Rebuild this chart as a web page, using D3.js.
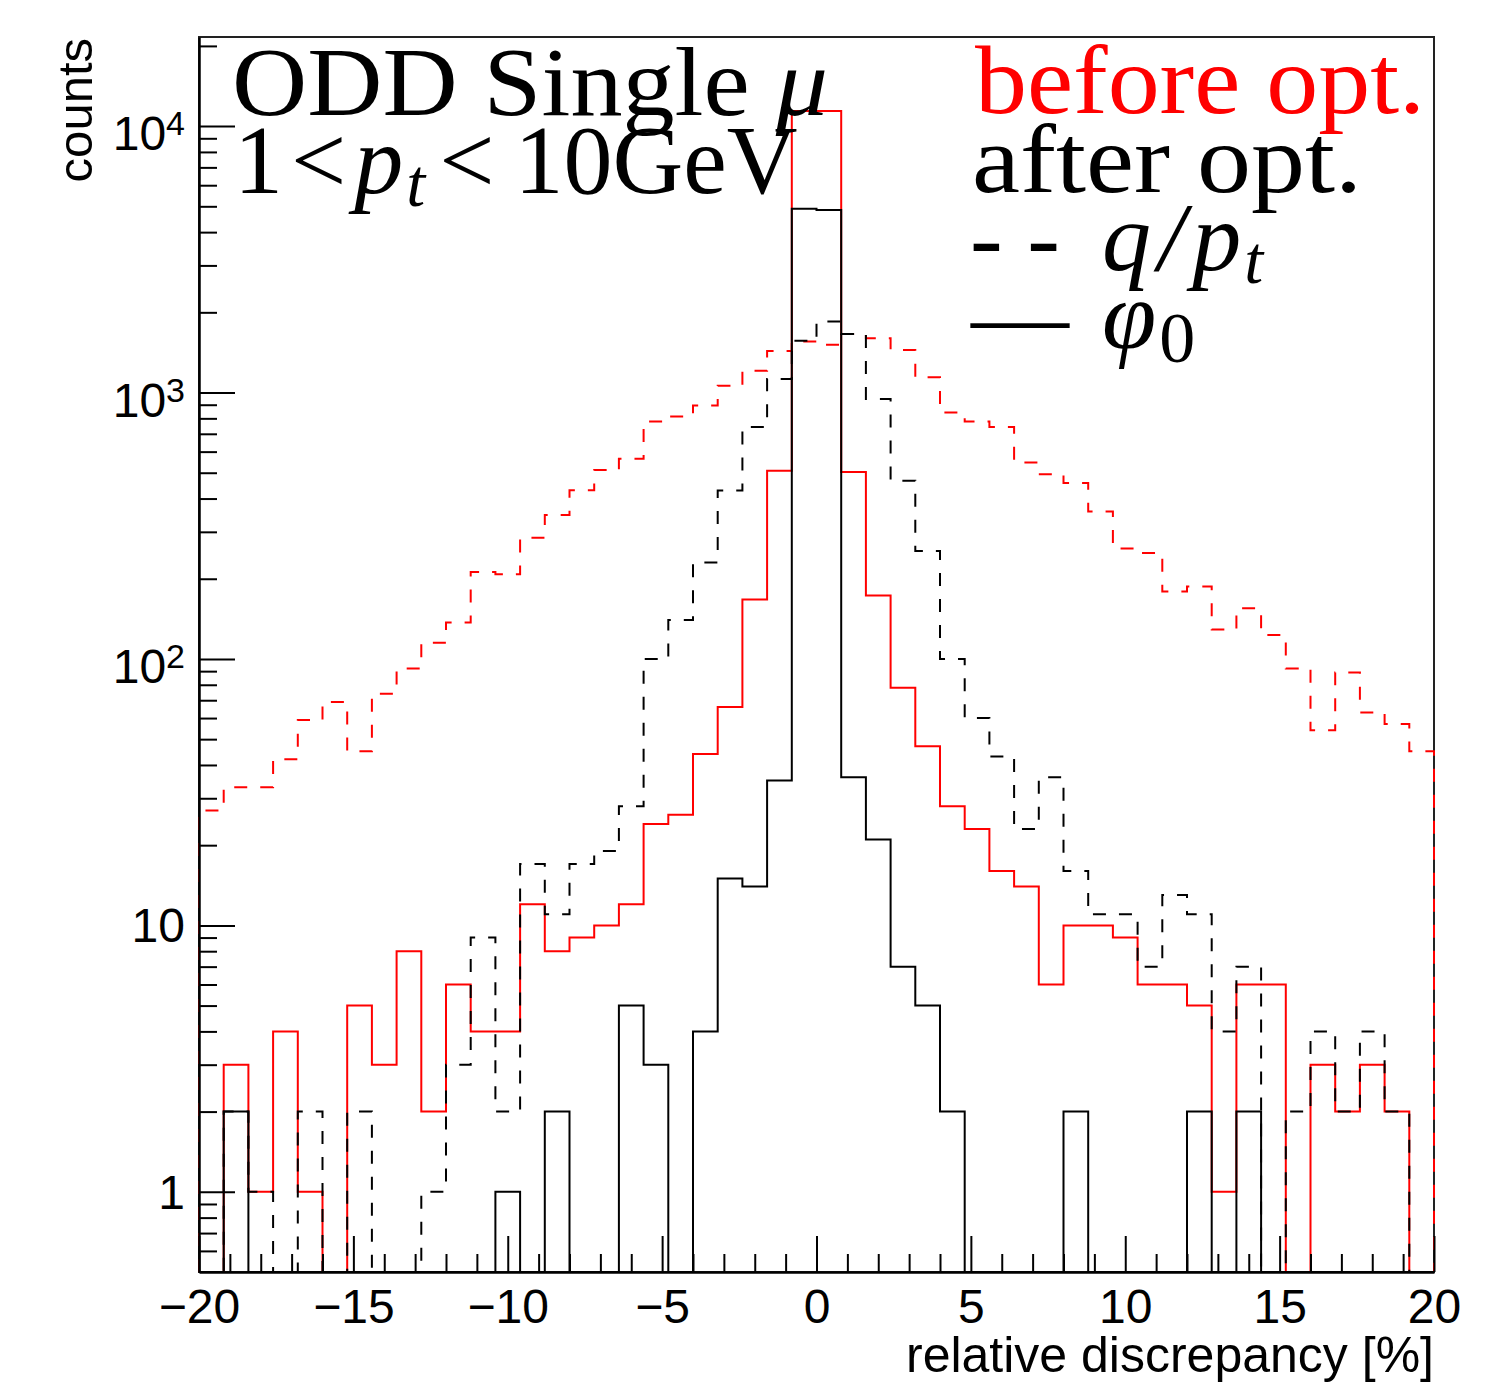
<!DOCTYPE html>
<html>
<head>
<meta charset="utf-8">
<script src="https://cdn.jsdelivr.net/npm/d3@7"></script>
<style>
  html, body { margin: 0; padding: 0; background: #fff; }
  svg { display: block; }
</style>
</head>
<body>
<div id="chart"></div>
<script>
// axis ticks
const xTickValues = [-20, -15, -10, -5, 0, 5, 10, 15, 20];
const yTickValues = [1, 10, 100, 1000, 10000];
const yTickLabels = [["1", ""], ["10", ""], ["10", "2"], ["10", "3"], ["10", "4"]];

// 50 bins of 0.8 % between -20 and 20
const binStart = -20;
const binWidth = 0.8;

// q/pt, before optimisation (red dashed)
const qptBefore = [27, 33, 33, 42, 59, 69, 45, 74, 92, 115, 137, 212, 208, 285, 347, 430, 512, 564, 779, 813,
  894, 1060, 1206, 1433, 1553, 1510, 1660, 1600, 1445, 1140, 841, 779, 742, 546, 494, 458, 358, 260, 250, 179,
  187, 129, 155, 123, 92, 54, 89, 63, 57, 45];
// q/pt, after optimisation (black dashed)
const qptAfter = [0, 2, 1, 0, 2, 0, 2, 0, 0, 1, 3, 9, 2, 17, 11, 17, 19, 28, 100, 140,
  230, 429, 742, 1125, 1566, 1846, 1660, 945, 467, 254, 100, 60, 43, 23, 36, 16, 11, 11, 7, 13,
  11, 4, 7, 0, 2, 4, 2, 4, 2, 0];
// phi0, before optimisation (red solid)
const phiBefore = [0, 3, 1, 4, 1, 0, 5, 3, 8, 2, 6, 4, 4, 12, 8, 9, 10, 12, 24, 26,
  44, 66, 167, 509, 11400, 11400, 503, 173, 78, 47, 28, 23, 16, 14, 6, 10, 10, 9, 6, 6,
  5, 1, 6, 6, 0, 3, 2, 3, 2, 0];
// phi0, after optimisation (black solid)
const phiAfter = [0, 2, 0, 0, 0, 0, 0, 0, 0, 0, 0, 0, 1, 0, 2, 0, 0, 5, 3, 0,
  4, 15, 14, 35, 4900, 4840, 36, 21, 7, 5, 2, 0, 0, 0, 0, 2, 0, 0, 0, 0,
  2, 0, 2, 0, 0, 0, 0, 0, 0, 0];

const width = 1505, height = 1385;
const padLeft = 199, padRight = 1434, padTop = 37, padBottom = 1272;
const yMin = 0.5, yMax = 21600;
const sans = '"Liberation Sans", Arial, Helvetica, sans-serif';
const serif = '"Liberation Serif", "Times New Roman", serif';

const edges = d3.range(qptBefore.length + 1).map(i => binStart + i * binWidth);

const x = d3.scaleLinear().domain([-20, 20]).range([padLeft, padRight]);
const y = d3.scaleLog().domain([yMin, yMax]).range([padBottom, padTop]);

const svg = d3.select('#chart').append('svg')
  .attr('width', width)
  .attr('height', height)
  .attr('viewBox', `0 0 ${width} ${height}`);

// frame
svg.append('rect')
  .attr('x', padLeft).attr('y', padTop)
  .attr('width', padRight - padLeft).attr('height', padBottom - padTop)
  .attr('fill', 'none').attr('stroke', '#222').attr('stroke-width', 2);

function histPoints(vals) {
  const pts = [[edges[0], yMin]];
  vals.forEach((v, i) => {
    const c = Math.max(v, yMin);
    pts.push([edges[i], c], [edges[i + 1], c]);
  });
  pts.push([edges[edges.length - 1], yMin]);
  return pts;
}

const line = d3.line().x(d => x(d[0])).y(d => y(d[1]));

const series = [
  { values: qptBefore, color: '#ff0000', dash: '13 13' },
  { values: phiBefore, color: '#ff0000', dash: null },
  { values: qptAfter, color: '#000', dash: '13 13' },
  { values: phiAfter, color: '#000', dash: null }
];

svg.append('g').attr('class', 'hists')
  .selectAll('path')
  .data(series)
  .join('path')
  .attr('d', d => line(histPoints(d.values)))
  .attr('fill', 'none')
  .attr('stroke', d => d.color)
  .attr('stroke-width', 2)
  .attr('stroke-dasharray', d => d.dash);

// x axis
const xMinor = d3.range(-19, 20).filter(v => v % 5 !== 0);
svg.append('g')
  .attr('transform', `translate(0,${padBottom})`)
  .call(d3.axisBottom(x).tickValues(xMinor).tickSize(-18).tickSizeOuter(0).tickFormat(''))
  .call(g => g.select('.domain').remove());

svg.append('g')
  .attr('class', 'x-axis')
  .attr('transform', `translate(0,${padBottom})`)
  .call(d3.axisBottom(x).tickValues(xTickValues).tickSize(-36).tickSizeOuter(0).tickPadding(17))
  .call(g => g.select('.domain').attr('stroke-width', 2.5))
  .call(g => g.selectAll('text')
    .attr('font-family', sans)
    .attr('font-size', 48)
    .attr('fill', '#000'));

// y axis
const yMinor = [];
[-1, 0, 1, 2, 3, 4].forEach(p => {
  d3.range(2, 10).forEach(k => {
    const v = k * Math.pow(10, p);
    if (v > yMin && v < yMax && !yTickValues.includes(v)) yMinor.push(v);
  });
});

svg.append('g')
  .attr('transform', `translate(${padLeft},0)`)
  .call(d3.axisLeft(y).tickValues(yMinor).tickSize(-18).tickSizeOuter(0).tickFormat(''))
  .call(g => g.select('.domain').remove());

svg.append('g')
  .attr('transform', `translate(${padLeft},0)`)
  .call(d3.axisLeft(y).tickValues(yTickValues).tickSize(-36).tickSizeOuter(0).tickFormat(''))
  .call(g => g.select('.domain').attr('stroke-width', 2.5));

svg.selectAll('.tick line').attr('stroke', '#000').attr('stroke-width', 2);

const yLab = svg.append('g').attr('class', 'y-labels')
  .attr('font-family', sans).attr('font-size', 48).attr('text-anchor', 'end');

yTickValues.forEach((v, i) => {
  const [base, exp] = yTickLabels[i];
  const t = yLab.append('text')
    .attr('x', padLeft - 14)
    .attr('y', y(v) + (exp ? 24 : 17));
  t.append('tspan').text(base);
  if (exp) {
    t.append('tspan').attr('font-size', 34).attr('dy', -15).text(exp);
  }
});

// axis titles
svg.append('text')
  .attr('transform', `translate(92,${padTop + 1}) rotate(-90)`)
  .attr('text-anchor', 'end')
  .attr('font-family', sans)
  .attr('font-size', 49)
  .text('counts');

svg.append('text')
  .attr('x', padRight)
  .attr('y', 1372)
  .attr('text-anchor', 'end')
  .attr('font-family', sans)
  .attr('font-size', 50)
  .text('relative discrepancy [%]');

// labels in the pad
const lab = svg.append('g').attr('font-family', serif).attr('font-size', 98);

const t1 = lab.append('text').attr('x', 232).attr('y', 115)
  .attr('textLength', 596).attr('lengthAdjust', 'spacingAndGlyphs');
t1.append('tspan').text('ODD Single ');
t1.append('tspan').attr('font-style', 'italic').text('μ');

const t2 = lab.append('text').attr('x', 234).attr('y', 193);
t2.append('tspan').text('1');
t2.append('tspan').attr('dx', 8).text('<');
t2.append('tspan').attr('dx', 8).attr('font-style', 'italic').text('p');
t2.append('tspan').attr('font-style', 'italic').attr('font-size', 68).attr('dy', 13).attr('dx', 3).text('t');
t2.append('tspan').attr('dy', -13).attr('dx', 14).text('<');
t2.append('tspan').attr('dx', 20).attr('textLength', 283).attr('lengthAdjust', 'spacingAndGlyphs').text('10GeV');

lab.append('text').attr('x', 975).attr('y', 113).attr('fill', '#ff0000')
  .attr('textLength', 450).attr('lengthAdjust', 'spacingAndGlyphs').text('before opt.');
lab.append('text').attr('x', 972).attr('y', 192)
  .attr('textLength', 390).attr('lengthAdjust', 'spacingAndGlyphs').text('after opt.');

const t5 = lab.append('text').attr('x', 970).attr('y', 270);
t5.append('tspan').text('- -');
t5.append('tspan').attr('x', 1102).attr('font-style', 'italic').attr('letter-spacing', 7).text('q/p');
t5.append('tspan').attr('font-style', 'italic').attr('font-size', 68).attr('dy', 13).attr('dx', -4).text('t');

const t6 = lab.append('text').attr('x', 971).attr('y', 348);
t6.append('tspan').text('—');
t6.append('tspan').attr('x', 1102).attr('font-style', 'italic').text('φ');
t6.append('tspan').attr('font-size', 72).attr('dy', 14).attr('dx', 3).text('0');
</script>
</body>
</html>
